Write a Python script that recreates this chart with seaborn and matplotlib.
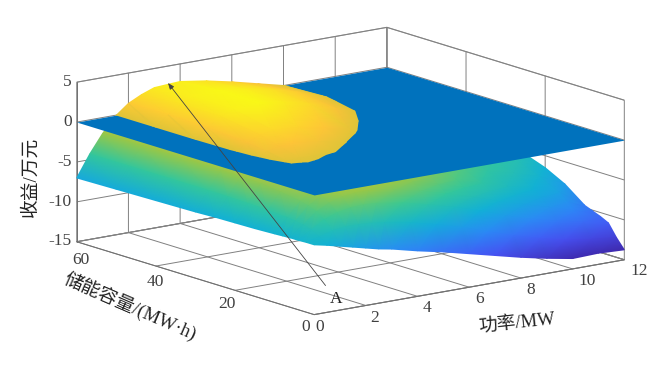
import numpy as np
import matplotlib
matplotlib.use("Agg")
import matplotlib.pyplot as plt
import seaborn as sns
from matplotlib.collections import TriMesh
from matplotlib.colors import Normalize
from matplotlib.transforms import Affine2D
from matplotlib.tri import Triangulation
from mpl_toolkits.mplot3d import proj3d

power = [0, 0.5, 1, 1.5, 2, 2.5, 3, 4, 5, 6, 7, 8, 9, 10, 11, 12]
capacity = [0, 2, 4, 6, 8, 10, 15, 20, 25, 30, 40, 50, 60]
# one row per power value
revenue = [
    [-6.25, -6.25, -6.3, -6.3, -6.35, -6.4, -6.5, -6.55, -6.6, -6.7, -6.8, -6.9, -7.0],
    [-6.6, -5.9, -5.3, -5.0, -4.8, -4.7, -4.5, -4.4, -4.35, -4.3, -4.3, -4.3, -4.3],
    [-7.0, -5.4, -4.3, -3.6, -3.2, -2.9, -2.5, -2.2, -2.1, -2.05, -2.0, -2.0, -2.0],
    [-7.4, -5.2, -3.7, -2.8, -2.2, -1.8, -1.1, -0.6, -0.35, -0.2, -0.1, -0.1, -0.1],
    [-7.8, -5.2, -3.4, -2.3, -1.5, -1.0, -0.3, 0.1, 0.5, 0.8, 1.2, 1.3, 1.2],
    [-8.2, -5.3, -3.3, -2.1, -1.3, -0.8, -0.2, 0.15, 0.8, 1.5, 2.3, 2.3, 2.0],
    [-8.5, -5.5, -3.4, -2.1, -1.3, -0.8, -0.25, 0.1, 0.9, 1.8, 2.9, 2.9, 2.6],
    [-9.3, -6.1, -3.9, -2.6, -1.7, -1.15, -0.55, -0.1, 0.6, 1.6, 3.2, 3.2, 2.8],
    [-10.0, -6.9, -4.7, -3.3, -2.4, -1.8, -1.1, -0.55, 0.05, 1.0, 2.6, 2.8, 2.3],
    [-10.8, -7.8, -5.6, -4.2, -3.3, -2.7, -1.9, -1.2, -0.6, 0.2, 1.8, 2.2, 1.6],
    [-11.6, -8.9, -6.6, -5.2, -4.3, -3.6, -2.7, -2.0, -1.3, -0.6, 0.7, 1.3, 0.8],
    [-12.4, -10.0, -7.8, -6.3, -5.3, -4.6, -3.5, -2.8, -2.1, -1.5, -0.3, 0.15, 0.0],
    [-13.1, -10.9, -8.8, -7.3, -6.3, -5.6, -4.5, -3.7, -3.0, -2.4, -1.4, -0.9, -1.0],
    [-13.7, -11.7, -9.6, -8.2, -7.2, -6.5, -5.3, -4.5, -3.9, -3.3, -2.4, -1.9, -2.0],
    [-13.6, -12.2, -10.3, -9.2, -8.3, -7.5, -6.3, -5.3, -4.7, -4.1, -3.3, -2.9, -3.0],
    [-13.75, -12.5, -11.0, -10.5, -10.1, -9.7, -7.8, -6.5, -5.6, -4.9, -4.0, -3.8, -4.2],
]
power_ticks = [0, 2, 4, 6, 8, 10, 12]
capacity_ticks = [0, 20, 40, 60]
revenue_ticks = [-15, -10, -5, 0, 5]

parula_colors = ["#3e26a8", "#4752f4", "#2d87f7", "#11b1d6", "#37c897", "#abc739", "#fec338", "#f9fb15"]
parula = sns.blend_palette(parula_colors, as_cmap=True)

sns.set_theme(style="white")
plt.rcParams["font.family"] = ["Liberation Serif", "Noto Sans CJK SC"]
plt.rcParams["axes.unicode_minus"] = False


def clip_triangle(tri, keep_above):
    # cut one triangle at the z=0 plane, keep one side of it
    out = []
    for i in range(3):
        a, b = tri[i], tri[(i + 1) % 3]
        a_in = a[2] >= 0 if keep_above else a[2] <= 0
        b_in = b[2] >= 0 if keep_above else b[2] <= 0
        if a_in:
            out.append(a)
        if a_in != b_in:
            t = a[2] / (a[2] - b[2])
            out.append((a[0] + t * (b[0] - a[0]), a[1] + t * (b[1] - a[1]), 0.0))
    return out


def surface_part(keep_above, zorder):
    # vertex-coloured triangles, the renderer does the smooth shading
    verts, tris = [], []
    for i in range(len(power) - 1):
        for j in range(len(capacity) - 1):
            p00 = (power[i], capacity[j], revenue[i][j])
            p10 = (power[i + 1], capacity[j], revenue[i + 1][j])
            p01 = (power[i], capacity[j + 1], revenue[i][j + 1])
            p11 = (power[i + 1], capacity[j + 1], revenue[i + 1][j + 1])
            for tri in [(p00, p10, p11), (p00, p11, p01)]:
                piece = clip_triangle(tri, keep_above)
                for k in range(1, len(piece) - 1):
                    n = len(verts)
                    verts += [piece[0], piece[k], piece[k + 1]]
                    tris.append((n, n + 1, n + 2))
    verts = np.array(verts)
    xs, ys, zs = proj3d.proj_transform(verts[:, 0], verts[:, 1], verts[:, 2], ax.get_proj())
    tris = np.array(tris)
    tris = tris[np.argsort(-zs[tris].mean(axis=1))]
    mesh = TriMesh(Triangulation(xs, ys, tris), cmap=parula, norm=Normalize(-14, 3.4))
    mesh.set_array(verts[:, 2])
    mesh.set_zorder(zorder)
    mesh.set_transform(ax.transData)
    mesh.do_3d_projection = lambda: 0
    ax.add_collection(mesh, autolim=False)


fig = plt.figure(figsize=(6.5, 3.66), dpi=100)
side = 1400
ax = fig.add_axes([(350.5 - 0.5135 * side) / 650, (366 - 171 - 0.5135 * side) / 366, side / 650, side / 366],
                  projection="3d", proj_type="ortho", computed_zorder=False)
ax.view_init(elev=13.47, azim=-127.2)
ax.set_box_aspect((390.4, 393.7, 164.5), zoom=1.53 * 366 / side)
ax.set_xlim(0, 12)
ax.set_ylim(0, 60)
ax.set_zlim(-15, 5)

surface_part(False, 1)
px, cx = np.meshgrid([power[0], power[-1]], [capacity[0], capacity[-1]])
ax.plot_surface(px, cx, np.zeros_like(px, dtype=float), color="#0072bd", shade=False,
                linewidth=0, antialiased=True, zorder=2)
surface_part(True, 3)

ax.set_xticks(power_ticks)
ax.set_yticks(capacity_ticks)
ax.set_zticks(revenue_ticks)
ax.tick_params(labelsize=12.5, colors="#404040", pad=0)
for axis in (ax.xaxis, ax.yaxis, ax.zaxis):
    axis.set_pane_color((1, 1, 1, 1))
    axis.pane.set_edgecolor("#a0a0a0")
    axis.pane.set_linewidth(0.8)
    axis.line.set_color("#707070")
    axis.line.set_linewidth(0.7)
    axis._axinfo["grid"]["color"] = "#808080"
    axis._axinfo["grid"]["linewidth"] = 0.7
    axis._axinfo["tick"]["inward_factor"] = 0
    axis._axinfo["tick"]["outward_factor"] = 0
ax.zaxis.set_ticks_position("upper")
ax.patch.set_alpha(0)

# nudge tick labels (pixels right, pixels down); Axis3D resets the transform on every draw
x_shift = [(2.4, 8.5), (5.4, 8.5), (5.4, 8.5), (6.4, 8.5), (6.4, 8.5), (11.4, 8.5), (11.4, 7.5)]
y_shift = [(-4.2, 8.8), (-3.2, 10.8), (3.8, 12.8), (8.8, 14.8)]
z_shift = [(3.4, 0)] * 5
for axis, shifts, ha in [(ax.xaxis, x_shift, "center"), (ax.yaxis, y_shift, "center"), (ax.zaxis, z_shift, "right")]:
    for tick, (dx, dy) in zip(axis.get_major_ticks(), shifts):
        tick.label1.set(ha=ha, va="center")
        tick.label1.set_transform(ax.transData + Affine2D().translate(dx, -dy))
        tick.label1.set_transform = lambda t: None

fig.text(31 / 650, 1 - 177 / 366, "收益/万元", rotation=90, ha="center", va="center", fontsize=13.5, color="#222222")
fig.text(130 / 650, 1 - 307 / 366, "储能容量/(MW·h)", rotation=-23.5, ha="center", va="center", fontsize=13.5, color="#222222")
fig.text(517 / 650, 1 - 324 / 366, "功率/MW", rotation=6, ha="center", va="center", fontsize=13.5, color="#222222")

ax.annotate("A", xy=(168, 366 - 83), xytext=(336, 366 - 299), xycoords="figure pixels",
            textcoords="figure pixels", ha="center", va="center", fontsize=12.5, color="#222222",
            arrowprops=dict(arrowstyle="-|>,head_length=0.3,head_width=0.12", color="#444444",
                            lw=0.6, shrinkA=2, shrinkB=0), zorder=5)

fig.savefig("out.png", dpi=100)
